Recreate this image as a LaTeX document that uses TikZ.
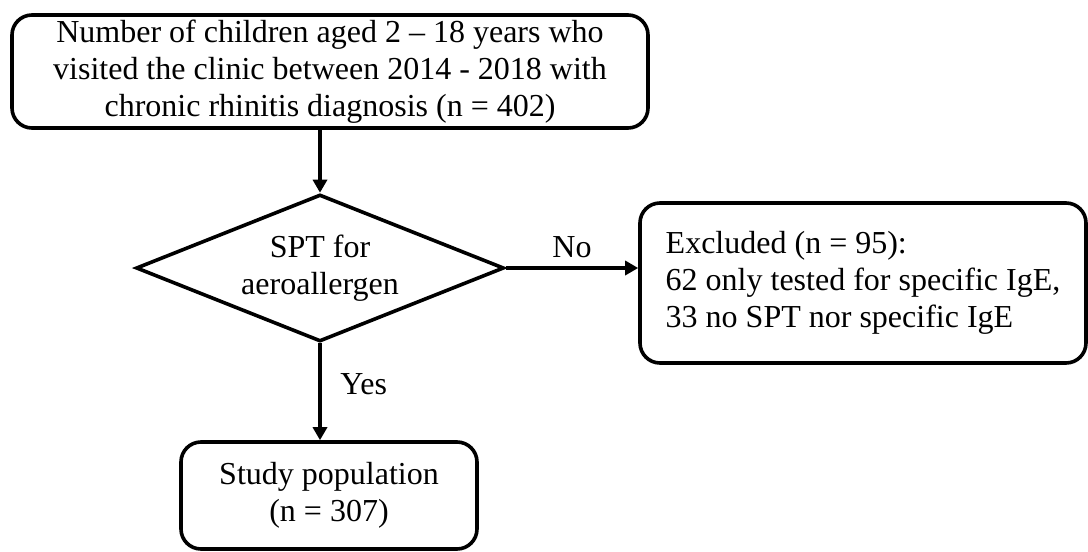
\documentclass[tikz,border=0pt]{standalone}
\usepackage{fontspec}
\setmainfont{Liberation Serif}
\usetikzlibrary{shapes.geometric, arrows.meta, positioning}

\begin{document}
\begin{tikzpicture}[
        x=0.5pt, y=-0.5pt,
        box node/.style={
            rectangle,
            rounded corners=10pt,
            draw,
            line width=1.8pt,
            inner sep=0pt,
            align=center,
            font=\fontsize{16}{18.5}\selectfont
        },
        decision node/.style={
            diamond,
            draw,
            line width=1.8pt,
            inner sep=0pt,
            aspect=2.5,
            minimum width=184pt,
            minimum height=73.5pt,
            align=center,
            font=\fontsize{16}{18.5}\selectfont
        },
        flow arrow/.style={
            -{Triangle[length=6.5pt, width=7pt]},
            line width=1.8pt
        },
        arrow label/.style={
            font=\fontsize{16}{18.5}\selectfont
        }
    ]
        \useasboundingbox (0,0) rectangle (1088,552);

        % --- NODES ---
        \node[box node, minimum width=318pt, minimum height=56.5pt] (count) at (330,71.5)
            {Number of children aged 2 -- 18 years who\\
             visited the clinic between 2014 - 2018 with\\
             chronic rhinitis diagnosis (n = 402)};
        \node[decision node] (spt) at (320,268) {SPT for\\ aeroallergen};
        \node[box node, minimum width=223pt, minimum height=80pt] (excl) at (863,283)
            {\raisebox{-3pt}{\begin{tabular}{@{}l@{}}
             Excluded (n = 95):\\
             62 only tested for specific IgE,\\
             33 no SPT nor specific IgE
             \end{tabular}}};
        \node[box node, minimum width=148pt, minimum height=53.5pt] (study) at (329,495.5)
            {Study population\\ (n = 307)};

        % --- ARROWS ---
        \draw[flow arrow] (spt.north |- count.south) -- (spt.north);
        \draw[flow arrow] (spt.east) -- (spt.east -| excl.west)
            node[midway, above, arrow label, yshift=1pt] {No};
        \draw[flow arrow] (spt.south) -- (spt.south |- study.north)
            node[midway, right, arrow label, xshift=6pt, yshift=4pt] {Yes};

    \end{tikzpicture}
\end{document}
